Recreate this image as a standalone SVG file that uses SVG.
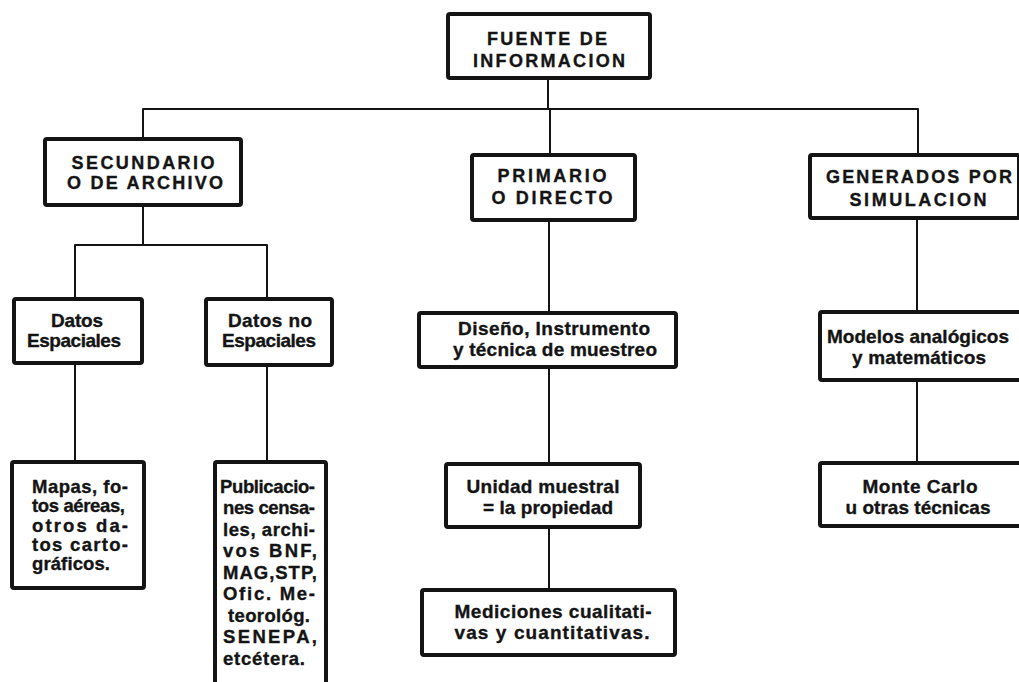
<svg xmlns="http://www.w3.org/2000/svg" width="1019" height="682" viewBox="0 0 1019 682">
<style>
.box{fill:#fff;stroke:#141414;stroke-width:4}
.conn{stroke:#141414;stroke-width:2;fill:none;stroke-linejoin:round}
.t{font-family:"Liberation Sans",Arial,sans-serif;font-weight:bold;fill:#141414;stroke:#141414;stroke-width:0.35}
.h{font-size:18px;text-anchor:middle}
.m{font-size:19px;text-anchor:middle}
.d{font-size:19px;text-anchor:middle}
.j{font-size:18.5px;text-anchor:start}
</style>
<rect width="1019" height="682" fill="#fff"/>
<g id="connectors">
<path class="conn" d="M548 80 V109"/>
<path class="conn" d="M143 137 V109 H918 V153"/>
<path class="conn" d="M550 109 V153"/>
<path class="conn" d="M143 207 V245"/>
<path class="conn" d="M75 297 V245 H267 V297"/>
<path class="conn" d="M75 365 V460"/>
<path class="conn" d="M267 367 V460"/>
<path class="conn" d="M549 222 V311"/>
<path class="conn" d="M549 369 V462"/>
<path class="conn" d="M549 529 V588"/>
<path class="conn" d="M917 220 V310"/>
<path class="conn" d="M917 382 V461"/>
</g>
<g id="fuente">
<rect class="box" x="448" y="14" width="202" height="64" rx="2"/>
<text class="t h" x="547" y="44.5" textLength="120" lengthAdjust="spacing">FUENTE DE</text>
<text class="t h" x="549" y="66.5" textLength="152" lengthAdjust="spacing">INFORMACION</text>
</g>
<g id="secundario">
<rect class="box" x="45" y="139" width="196" height="66" rx="2"/>
<text class="t h" x="143" y="168.5" textLength="143" lengthAdjust="spacing">SECUNDARIO</text>
<text class="t h" x="145" y="188.5" textLength="156" lengthAdjust="spacing">O DE ARCHIVO</text>
</g>
<g id="primario">
<rect class="box" x="472" y="155" width="163" height="65" rx="2"/>
<text class="t h" x="552" y="182" textLength="109" lengthAdjust="spacing">PRIMARIO</text>
<text class="t h" x="552" y="204" textLength="121" lengthAdjust="spacing">O DIRECTO</text>
</g>
<g id="generados">
<rect class="box" x="810" y="155" width="209" height="63" rx="2"/>
<text class="t h" x="919" y="183" textLength="186" lengthAdjust="spacing">GENERADOS POR</text>
<text class="t h" x="918" y="206" textLength="137" lengthAdjust="spacing">SIMULACION</text>
</g>
<g id="datos-espaciales">
<rect class="box" x="14" y="299" width="128" height="64" rx="2"/>
<text class="t d" x="77" y="327" textLength="52" lengthAdjust="spacing">Datos</text>
<text class="t d" x="74" y="347" textLength="94" lengthAdjust="spacing">Espaciales</text>
</g>
<g id="datos-no-espaciales">
<rect class="box" x="206" y="299" width="126" height="66" rx="2"/>
<text class="t d" x="270" y="327" textLength="84" lengthAdjust="spacing">Datos no</text>
<text class="t d" x="269" y="347" textLength="94" lengthAdjust="spacing">Espaciales</text>
</g>
<g id="mapas">
<rect class="box" x="12" y="462" width="132" height="126" rx="2"/>
<text class="t j" x="32" y="493" textLength="96" lengthAdjust="spacing">Mapas, fo-</text>
<text class="t j" x="32" y="512" textLength="93" lengthAdjust="spacing">tos aéreas,</text>
<text class="t j" x="32" y="532" textLength="96" lengthAdjust="spacing">otros da-</text>
<text class="t j" x="32" y="551" textLength="96" lengthAdjust="spacing">tos carto-</text>
<text class="t j" x="32" y="570" textLength="78" lengthAdjust="spacing">gráficos.</text>
</g>
<g id="publicaciones">
<rect class="box" x="215" y="462" width="111" height="240" rx="2"/>
<text class="t j" x="220" y="493" textLength="95" lengthAdjust="spacing">Publicacio-</text>
<text class="t j" x="223" y="514" textLength="92" lengthAdjust="spacing">nes censa-</text>
<text class="t j" x="223" y="536" textLength="92" lengthAdjust="spacing">les, archi-</text>
<text class="t j" x="223" y="557" textLength="94" lengthAdjust="spacing">vos BNF,</text>
<text class="t j" x="223" y="579" textLength="94" lengthAdjust="spacing">MAG,STP,</text>
<text class="t j" x="223" y="600" textLength="92" lengthAdjust="spacing">Ofic. Me-</text>
<text class="t j" x="228" y="622" textLength="82" lengthAdjust="spacing">teorológ.</text>
<text class="t j" x="223" y="643" textLength="94" lengthAdjust="spacing">SENEPA,</text>
<text class="t j" x="223" y="665" textLength="82" lengthAdjust="spacing">etcétera.</text>
</g>
<g id="diseno">
<rect class="box" x="419" y="313" width="257" height="54" rx="2"/>
<text class="t m" x="554" y="335" textLength="192" lengthAdjust="spacing">Diseño, Instrumento</text>
<text class="t m" x="555" y="356" textLength="204" lengthAdjust="spacing">y técnica de muestreo</text>
</g>
<g id="unidad">
<rect class="box" x="446" y="464" width="194" height="63" rx="2"/>
<text class="t m" x="543" y="493" textLength="153" lengthAdjust="spacing">Unidad muestral</text>
<text class="t m" x="548" y="514" textLength="130" lengthAdjust="spacing">= la propiedad</text>
</g>
<g id="mediciones">
<rect class="box" x="422" y="590" width="253" height="65" rx="2"/>
<text class="t m" x="553" y="618" textLength="197" lengthAdjust="spacing">Mediciones cualitati-</text>
<text class="t m" x="552" y="639" textLength="195" lengthAdjust="spacing">vas y cuantitativas.</text>
</g>
<g id="modelos">
<rect class="box" x="820" y="312" width="201" height="68" rx="2"/>
<text class="t m" x="918" y="343" textLength="182" lengthAdjust="spacing">Modelos analógicos</text>
<text class="t m" x="919" y="364" textLength="134" lengthAdjust="spacing">y matemáticos</text>
</g>
<g id="montecarlo">
<rect class="box" x="820" y="463" width="201" height="63" rx="2"/>
<text class="t m" x="920" y="493" textLength="115" lengthAdjust="spacing">Monte Carlo</text>
<text class="t m" x="918" y="514" textLength="145" lengthAdjust="spacing">u otras técnicas</text>
</g>
</svg>
